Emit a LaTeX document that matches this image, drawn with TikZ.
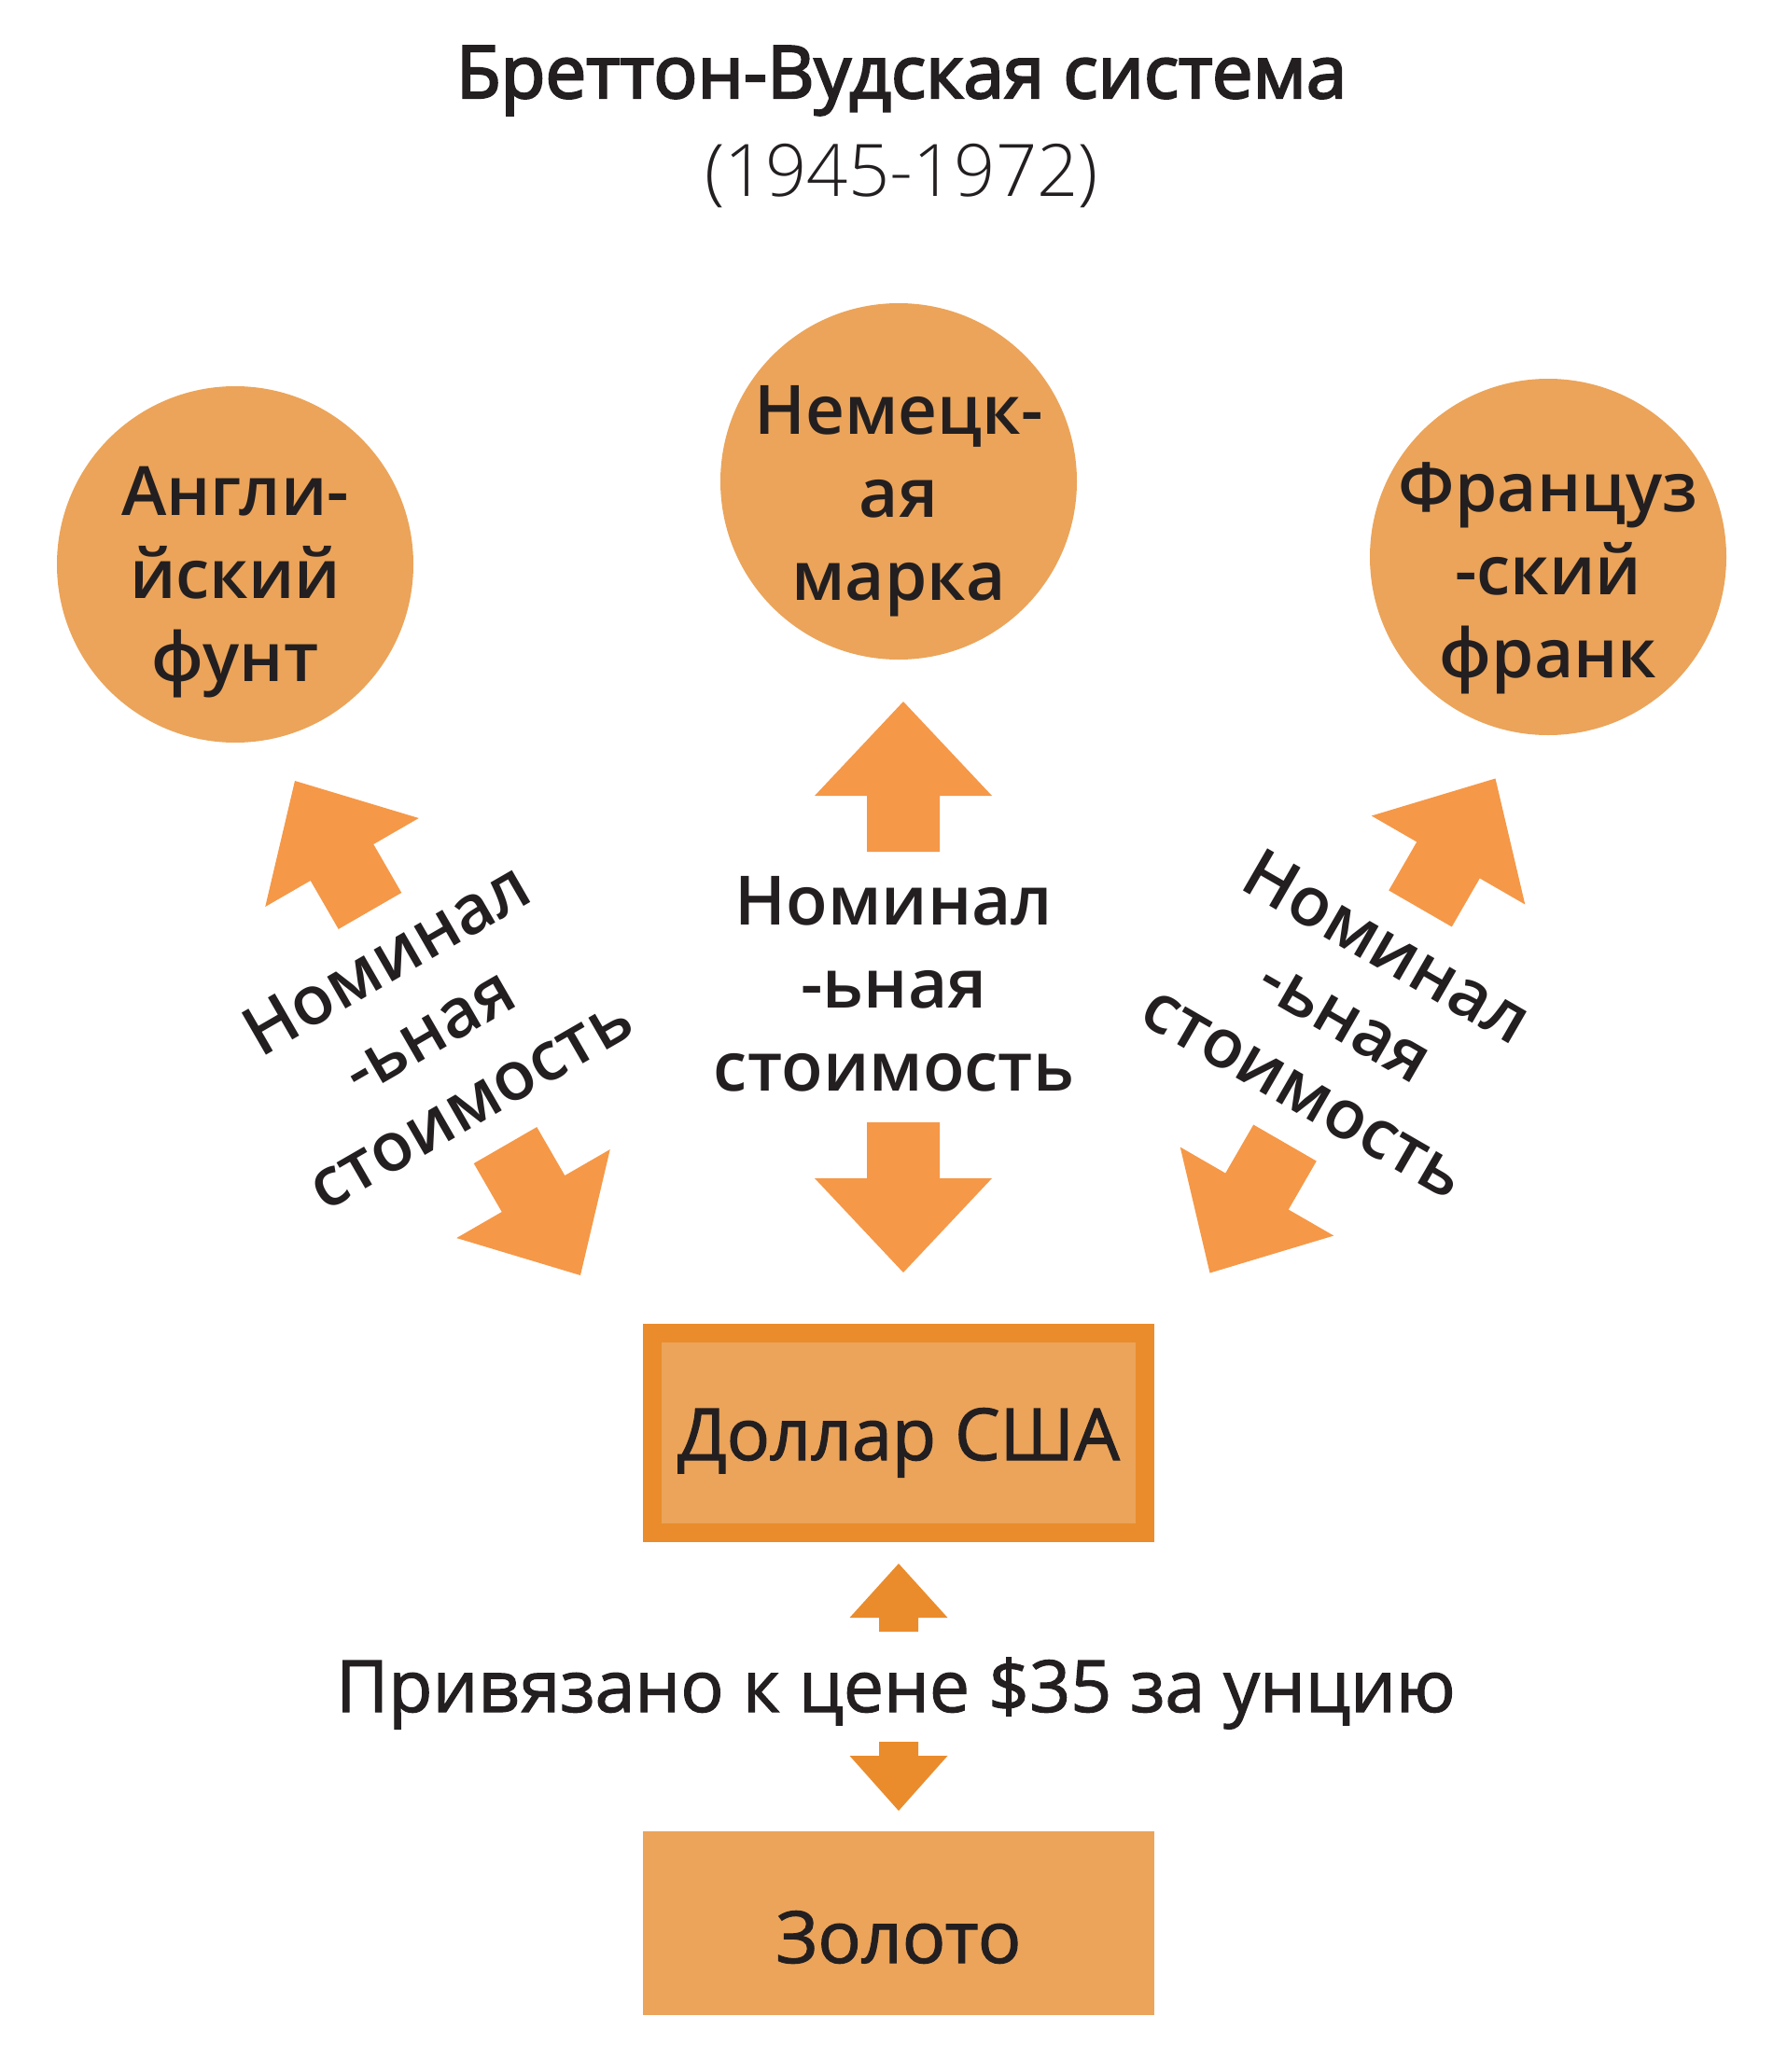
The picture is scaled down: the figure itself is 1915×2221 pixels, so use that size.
\documentclass[tikz,border=0pt]{standalone}
\usepackage{fontspec}
\setmainfont{Open Sans}
\newfontfamily\mdfont{Open Sans}[FakeBold=1.5]
\newfontfamily\ttlfont{Open Sans}[FakeBold=3]
\IfFontExistsTF{Open Sans SemiBold}{\newfontfamily\sbfont{Open Sans SemiBold}}{%
  \IfFontExistsTF{Open Sans Semibold}{\newfontfamily\sbfont{Open Sans Semibold}}{\newcommand\sbfont{\bfseries}}}
\IfFontExistsTF{Open Sans Light}{\newfontfamily\ltfont{Open Sans Light}}{\newcommand\ltfont{}}
\definecolor{txt}{HTML}{231F20}
\definecolor{fillor}{HTML}{EBA45A}
\definecolor{darkor}{HTML}{EA8C2C}
\definecolor{bigor}{HTML}{F59848}
\newcommand\valgroup[4]{%
  \begin{scope}[shift={(#2,#3)}, rotate=#4]
    \fill[bigarrow] (0,-306) -- (95,-205) -- (39,-205) -- (39,-145) -- (-39,-145) -- (-39,-205) -- (-95,-205) -- cycle;
    \fill[bigarrow] (0,306) -- (95,205) -- (39,205) -- (39,145) -- (-39,145) -- (-39,205) -- (-95,205) -- cycle;
    \node[clabel, transform shape] (#1) at (-10,111) {Номинал\\-ьная\\стоимость};
  \end{scope}}
\begin{document}
\begin{tikzpicture}[x=0.5pt,y=-0.5pt,
  bigarrow/.style={fill=bigor},
  smallarrow/.style={fill=darkor},
  coin/.style={circle, fill=fillor, minimum size=191pt, inner sep=0pt},
  clabel/.style={font=\sbfont\fontsize{36.5}{44.5}\selectfont, text=txt, align=center, anchor=base, inner sep=0pt},
  boxtext/.style={font=\mdfont\fontsize{38.5}{46}\selectfont, text=txt, inner sep=0pt}]
\useasboundingbox (0,0) rectangle (1915,2221);
% title
\node[font=\ttlfont\fontsize{39}{47}\selectfont, text=txt, anchor=base, inner sep=0pt] (title) at (966,105) {Бреттон-Вудская система};
\node[font=\ltfont\fontsize{38.8}{46}\selectfont, text=txt, anchor=base, inner sep=0pt] (years) at (966,210) {(1945-1972)};
% currencies
\node[coin] (gbp) at (252,605) {};
\node[clabel] (gbpt) at (252,730) {Англи-\\йский\\фунт};
\node[coin] (dem) at (963,516) {};
\node[clabel] (demt) at (963,643) {Немецк-\\ая\\марка};
\node[coin] (frf) at (1659,597) {};
\node[clabel] (frft) at (1659,726) {Француз\\-ский\\франк};
% nominal value groups
\valgroup{nomL}{469}{1102}{30}
\valgroup{nomM}{968}{1058}{0}
\valgroup{nomR}{1449.5}{1099.5}{-30}
% dollar
\node[boxtext, draw=darkor, line width=10pt, fill=fillor, minimum width=264pt, minimum height=107pt, text height=29pt, text depth=0pt] (usd) at (963,1536) {Доллар США};
% peg
\node[boxtext, anchor=base] (peg) at (960,1835) {Привязано к цене \$35 за унцию};
\fill[smallarrow] (963,1676) -- (1015.5,1734) -- (984,1734) -- (984,1749) -- (942,1749) -- (942,1734) -- (910.5,1734) -- cycle;
\fill[smallarrow] (963,1941) -- (1015.5,1882) -- (984,1882) -- (984,1867) -- (942,1867) -- (942,1882) -- (910.5,1882) -- cycle;
% gold
\node[boxtext, fill=fillor, minimum width=274pt, minimum height=98.5pt, text height=42.5pt, text depth=0pt] (gold) at (963,2061.5) {Золото};
\end{tikzpicture}
\end{document}
